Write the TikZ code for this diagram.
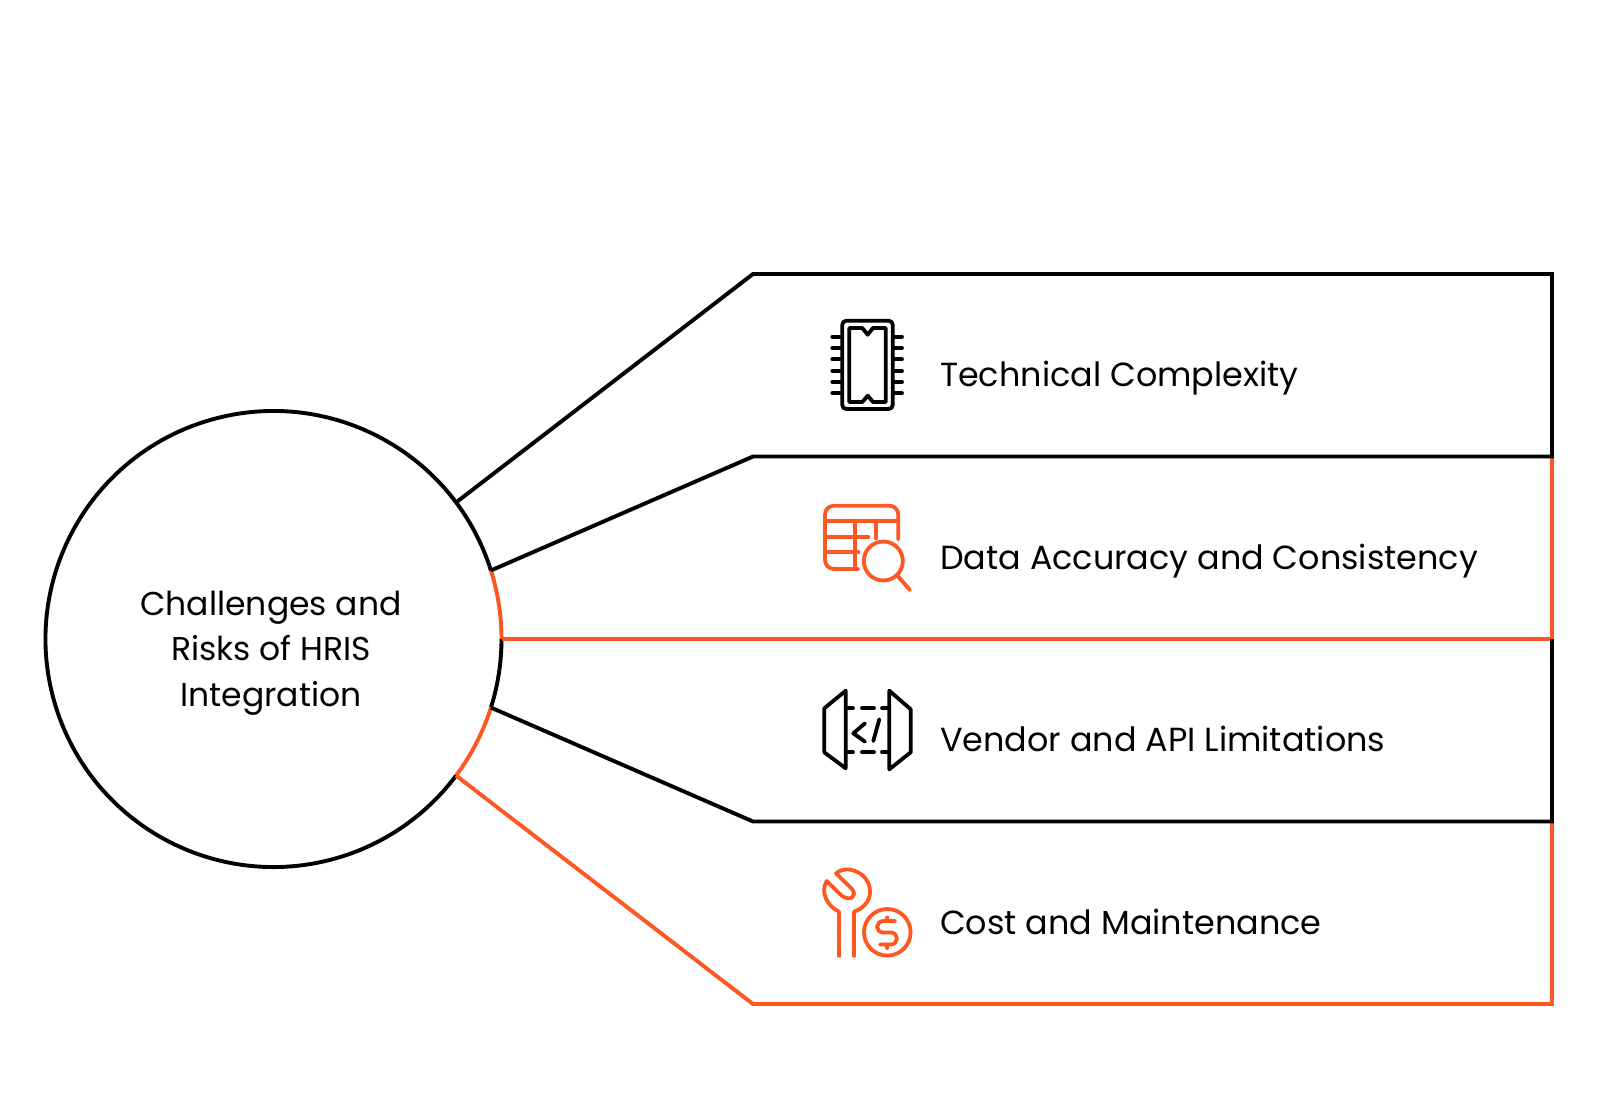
\documentclass[tikz,border=0pt]{standalone}
\usepackage{fontspec}
\setmainfont{Poppins}
\definecolor{acc}{HTML}{FF5722}
\tikzset{
  ln/.style={line width=3.9pt,line join=miter,line cap=butt},
  ic/.style={line width=3.8pt,line join=round,line cap=round},
  lab/.style={anchor=base west,inner sep=0pt,font=\fontsize{33.4}{40}\selectfont},
}
\begin{document}
\begin{tikzpicture}[x=1pt,y=1pt]
\useasboundingbox (0,0) rectangle (1600,-1096);
\fill[white] (0,0) rectangle (1600,-1096);
\node[circle,minimum size=456pt,inner sep=0pt,outer sep=0pt] (hub) at (273.5,-639) {};
\node[align=center,inner sep=0pt,font=\fontsize{33}{45.5}\selectfont] (hubtext) at (271,-653) {Challenges and\\Risks of HRIS\\Integration};
\coordinate (j0) at ([shift={(36.8:228pt)}]hub.center);
\coordinate (j1) at ([shift={(17.5:228pt)}]hub.center);
\coordinate (j2) at ([shift={(0:228pt)}]hub.center);
\coordinate (j3) at ([shift={(-17.5:228pt)}]hub.center);
\coordinate (j4) at ([shift={(-36.8:228pt)}]hub.center);
\coordinate (a0) at (753,-274); \coordinate (b0) at (1552,-274);
\coordinate (a1) at (753,-456.5); \coordinate (b1) at (1552,-456.5);
\coordinate (b2) at (1552,-639);
\coordinate (a3) at (753,-821.5); \coordinate (b3) at (1552,-821.5);
\coordinate (a4) at (753,-1004); \coordinate (b4) at (1552,-1004);
% hub ring
\draw[ln] (j1) arc[start angle=17.5,end angle=323.2,radius=228pt];
\draw[ln] (j2) arc[start angle=0,end angle=-17.5,radius=228pt];
% orange
\draw[acc,ln] (j2) -- (b2) -- (b1);
\draw[acc,ln] (j4) -- (a4) -- (b4) -- (b3);
\draw[acc,ln] (j2) arc[start angle=0,end angle=17.5,radius=228pt];
\draw[acc,ln] (j3) arc[start angle=-17.5,end angle=-36.8,radius=228pt];
% black
\draw[ln] (j0) -- (a0) -- (b0) -- (b1) -- (a1) -- (j1);
\draw[ln] (j3) -- (a3) -- (b3) -- (b2);
% labels
\node[lab] (t1) at (940,-386.5) {Technical Complexity};
\node[lab] (t2) at (940,-569) {Data Accuracy and Consistency};
\node[lab] (t3) at (940,-751.5) {Vendor and API Limitations};
\node[lab] (t4) at (940,-934) {Cost and Maintenance};
% chip
\draw[ic,rounded corners=4pt] (842.3,-320.7) rectangle (892.7,-409);
\draw[ic] (849.3,-328) -- (862.3,-328) -- (867.7,-334.7) -- (873,-328) -- (885.7,-328) -- (885.7,-402) -- (873,-402) -- (867.7,-395.7) -- (862.3,-402) -- (849.3,-402) -- cycle;
\foreach \yy in {336.7,348,359.3,370.7,382,393.3}{
  \draw[ic] (832.3,-\yy) -- (842,-\yy);
  \draw[ic] (893,-\yy) -- (902,-\yy);
}
% table + magnifier
\begin{scope}[acc]
\draw[ic,rounded corners=9pt] (858.3,-569) -- (825,-569) -- (825,-505.7) -- (898.3,-505.7) -- (898.3,-539.5);
\draw[ic] (825,-520.7) -- (898.3,-520.7);
\draw[ic] (855,-520.7) -- (855,-569);
\draw[ic] (876.3,-520.7) -- (876.3,-538.3);
\draw[ic] (825,-536.7) -- (868.3,-536.7);
\draw[ic] (825,-552.3) -- (858.3,-552.3);
\draw[ic] (883.3,-561) circle[radius=19.5pt];
\draw[ic] (897.3,-575.5) -- (910,-590);
\end{scope}
% code gates
\draw[ic] (845.7,-690.7) -- (824.3,-708.3) -- (824.3,-752.3) -- (845.7,-768.3) -- cycle;
\draw[ic] (889.3,-690.7) -- (910.7,-709.3) -- (910.7,-752.3) -- (889.3,-769.3) -- cycle;
\foreach \yy in {708.3,752.3}{
  \draw[ic] (848,-\yy) -- (853,-\yy);
  \draw[ic] (862,-\yy) -- (874,-\yy);
  \draw[ic] (882,-\yy) -- (888,-\yy);
}
\draw[ic] (865,-723.3) -- (853.3,-733.3) -- (865,-741.7);
\draw[ic] (879.3,-719.3) -- (873.3,-741);
% wrench + coin
\begin{scope}[acc]
\draw[ic,line cap=butt] (839,-957.3) -- (839,-911.7)
  .. controls (827,-906) and (820,-892) .. (826.7,-881)
  -- (841,-895)
  .. controls (849,-902) and (858,-897) .. (852,-889)
  -- (836,-873.3)
  .. controls (846,-864) and (870,-872) .. (870,-892)
  .. controls (870,-902) and (862,-909) .. (854,-911.7)
  -- (854,-957.3);
\draw[ic] (887.3,-932.3) circle[radius=23.3pt];
\draw[ic] (895,-921) -- (883.5,-921) .. controls (875,-921) and (875,-932.5) .. (883.5,-932.5)
  -- (890.5,-932.5) .. controls (899,-932.5) and (899,-944.5) .. (890.5,-944.5) -- (880,-944.5);
\draw[ic] (887.3,-917.5) -- (887.3,-921);
\draw[ic] (887.3,-944.5) -- (887.3,-948);
\end{scope}
\end{tikzpicture}
\end{document}
